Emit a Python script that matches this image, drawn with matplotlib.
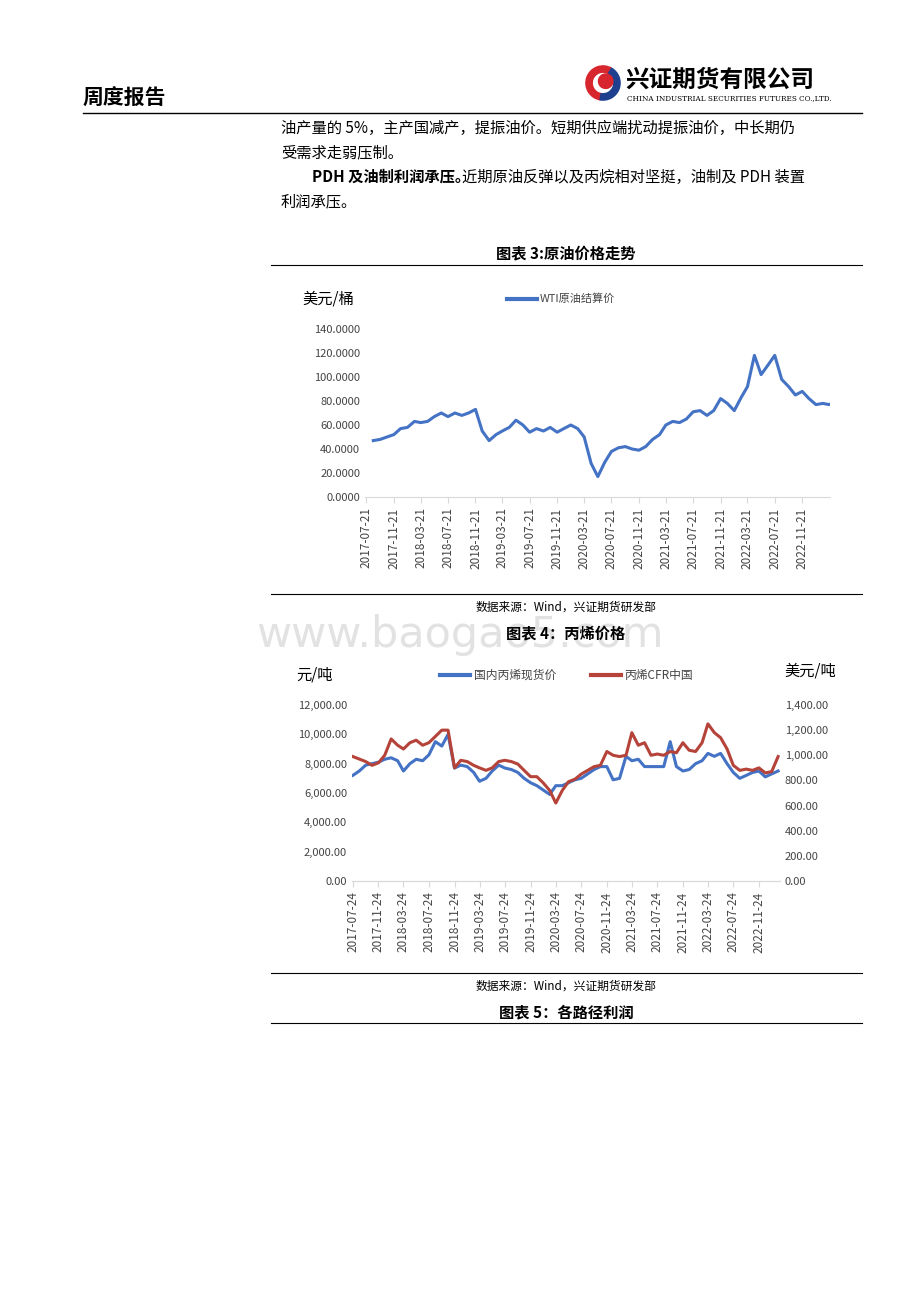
import matplotlib
matplotlib.use("Agg")
import matplotlib.pyplot as plt
import matplotlib.dates as mdates
import pandas as pd
from matplotlib.patches import Wedge

plt.rcParams['font.family'] = ['Noto Sans CJK SC', 'DejaVu Sans']

wti_dates = pd.date_range("2017-07-21", periods=69, freq="MS") + pd.Timedelta(days=20)
wti = [47, 48, 50, 52, 57, 58,
       63, 62, 63, 67, 70, 67, 70, 68, 70, 73, 55, 47,
       52, 55, 58, 64, 60, 54, 57, 55, 58, 54, 57, 60,
       57, 50, 28, 17, 29, 38, 41, 42, 40, 39, 42, 48,
       52, 60, 63, 62, 65, 71, 72, 68, 72, 82, 78, 72,
       83, 92, 118, 102, 110, 118, 98, 92, 85, 88, 82, 77,
       78, 77, 80]
wti_ticks = ["2017-07-21", "2017-11-21", "2018-03-21", "2018-07-21", "2018-11-21", "2019-03-21",
             "2019-07-21", "2019-11-21", "2020-03-21", "2020-07-21", "2020-11-21", "2021-03-21",
             "2021-07-21", "2021-11-21", "2022-03-21", "2022-07-21", "2022-11-21"]

pp_dates = pd.date_range("2017-07-01", periods=68, freq="MS") + pd.Timedelta(days=23)
dom = [7200, 7500, 7900, 8000, 8100, 8300,
       8400, 8200, 7500, 8000, 8300, 8200, 8600, 9500, 9200, 10000, 7700, 7900,
       7800, 7400, 6800, 7000, 7500, 7900, 7700, 7600, 7400, 7000, 6700, 6500,
       6200, 5900, 6500, 6500, 6700, 6900, 7000, 7300, 7600, 7800, 7800, 6900,
       7000, 8500, 8200, 8300, 7800, 7800, 7800, 7800, 9500, 7800, 7500, 7600,
       8000, 8200, 8700, 8500, 8700, 8000, 7400, 7000, 7200, 7400, 7500, 7100,
       7300, 7500]
cfr = [990, 970, 950, 920, 940, 1000,
       1130, 1080, 1050, 1100, 1120, 1080, 1100, 1150, 1200, 1200, 900, 960,
       950, 920, 900, 880, 900, 950, 960, 950, 930, 880, 830, 830,
       780, 720, 620, 720, 790, 810, 850, 880, 910, 920, 1030, 1000,
       990, 1000, 1180, 1080, 1100, 1000, 1010, 1000, 1030, 1020, 1100, 1040,
       1030, 1100, 1250, 1180, 1140, 1050, 920, 880, 890, 880, 900, 860,
       870, 990]
pp_ticks = ["2017-07-24", "2017-11-24", "2018-03-24", "2018-07-24", "2018-11-24", "2019-03-24",
            "2019-07-24", "2019-11-24", "2020-03-24", "2020-07-24", "2020-11-24", "2021-03-24",
            "2021-07-24", "2021-11-24", "2022-03-24", "2022-07-24", "2022-11-24"]

W, H = 920, 1302
fig = plt.figure(figsize=(9.2, 13.02), dpi=100)

def fx(x): return x / W
def fy(y): return 1 - y / H

def hline(y, x0, x1, lw=0.8):
    fig.add_artist(plt.Line2D([fx(x0), fx(x1)], [fy(y), fy(y)], color='black', lw=lw))

# header
fig.text(fx(83), fy(98), "周度报告", fontsize=15, fontweight='bold', va='center')
hline(113, 83, 862, 1.0)
lax = fig.add_axes([fx(585), fy(102), fx(36), fy(64) - fy(102)])
lax.set_xlim(-1, 1); lax.set_ylim(-1, 1); lax.axis('off'); lax.set_aspect('equal')
lax.add_patch(Wedge((0, 0), 0.95, 60, 260, width=0.35, color='#d7262d'))
lax.add_patch(Wedge((0, 0), 0.95, 260, 420, width=0.35, color='#1f3f8f'))
lax.add_patch(Wedge((0.15, 0.1), 0.4, 0, 360, color='#d7262d'))
fig.text(fx(625), fy(80), "兴证期货有限公司", fontsize=17, fontweight='bold', va='center')
fig.text(fx(627), fy(98), "CHINA INDUSTRIAL SECURITIES FUTURES CO.,LTD.", fontsize=5.2, va='center',
         family='DejaVu Serif')

# body
fs = 11
fig.text(fx(281), fy(128), "油产量的 5%，主产国减产，提振油价。短期供应端扰动提振油价，中长期仍", fontsize=fs, va='center')
fig.text(fx(281), fy(153), "受需求走弱压制。", fontsize=fs, va='center')
fig.text(fx(312), fy(177), "PDH 及油制利润承压。", fontsize=fs, va='center', fontweight='bold')
fig.text(fx(462), fy(177), "近期原油反弹以及丙烷相对坚挺，油制及 PDH 装置", fontsize=fs, va='center')
fig.text(fx(281), fy(202), "利润承压。", fontsize=fs, va='center')

fig.text(fx(566), fy(253), "图表 3:原油价格走势", fontsize=11, fontweight='bold', ha='center', va='center')
hline(265, 271, 862)
hline(594, 271, 862)
fig.text(fx(566), fy(607), "数据来源：Wind，兴证期货研发部", fontsize=8.5, ha='center', va='center')
fig.text(fx(460), fy(635), "www.baogao5.com", fontsize=31, color='#e2e2e2', ha='center', va='center',
         family='DejaVu Sans', zorder=0)
fig.text(fx(566), fy(633), "图表 4：丙烯价格", fontsize=11, fontweight='bold', ha='center', va='center')
hline(973, 271, 862)
fig.text(fx(566), fy(986), "数据来源：Wind，兴证期货研发部", fontsize=8.5, ha='center', va='center')
fig.text(fx(566), fy(1012), "图表 5：各路径利润", fontsize=11, fontweight='bold', ha='center', va='center')
hline(1023, 271, 862)

blue = '#4472c4'
red = '#b5433a'
gray = '#444444'

# chart 1
ax1 = fig.add_axes([fx(365), fy(497), fx(830) - fx(365), fy(329) - fy(497)])
ax1.plot(wti_dates, wti, color=blue, lw=2.2)
ax1.set_ylim(0, 140)
ax1.set_yticks(range(0, 141, 20))
ax1.set_yticklabels([f"{v:.4f}" for v in range(0, 141, 20)], fontsize=8, color=gray)
tk = pd.to_datetime(wti_ticks)
ax1.set_xticks(tk)
ax1.set_xticklabels(wti_ticks, rotation=90, fontsize=8.5, color=gray)
ax1.set_xlim(pd.Timestamp("2017-07-15"), pd.Timestamp("2023-03-25"))
for s in ['top', 'right', 'left']:
    ax1.spines[s].set_visible(False)
ax1.spines['bottom'].set_color('#d9d9d9')
ax1.tick_params(axis='y', length=0)
ax1.tick_params(axis='x', color='#d9d9d9', length=4)
fig.text(fx(302), fy(299), "美元/桶", fontsize=11, va='center')
fig.add_artist(plt.Line2D([fx(507), fx(537)], [fy(299)] * 2, color=blue, lw=3))
fig.text(fx(540), fy(299), "WTI原油结算价", fontsize=8, va='center', color=gray)

# chart 2
ax2 = fig.add_axes([fx(352), fy(881), fx(780) - fx(352), fy(705) - fy(881)])
ax2.plot(pp_dates, dom, color=blue, lw=2.2)
ax2.set_ylim(0, 12000)
ax2.set_yticks(range(0, 12001, 2000))
ax2.set_yticklabels([f"{v:,.2f}" for v in range(0, 12001, 2000)], fontsize=8, color=gray)
ax3 = ax2.twinx()
ax3.plot(pp_dates, cfr, color=red, lw=2.2)
ax3.set_ylim(0, 1400)
ax3.set_yticks(range(0, 1401, 200))
ax3.set_yticklabels([f"{v:,.2f}" for v in range(0, 1401, 200)], fontsize=8, color=gray)
tk2 = pd.to_datetime(pp_ticks)
ax2.set_xticks(tk2)
ax2.set_xticklabels(pp_ticks, rotation=90, fontsize=8.5, color=gray)
ax2.set_xlim(pd.Timestamp("2017-07-20"), pd.Timestamp("2023-03-05"))
for a in (ax2, ax3):
    for s in ['top', 'right', 'left']:
        a.spines[s].set_visible(False)
    a.spines['bottom'].set_color('#d9d9d9')
    a.tick_params(axis='y', length=0)
ax2.tick_params(axis='x', color='#d9d9d9', length=4)
fig.text(fx(296), fy(675), "元/吨", fontsize=11, va='center')
fig.text(fx(784), fy(671), "美元/吨", fontsize=11, va='center')
fig.add_artist(plt.Line2D([fx(440), fx(470)], [fy(675)] * 2, color=blue, lw=3))
fig.text(fx(474), fy(675), "国内丙烯现货价", fontsize=8.5, va='center', color=gray)
fig.add_artist(plt.Line2D([fx(591), fx(621)], [fy(675)] * 2, color=red, lw=3))
fig.text(fx(624), fy(675), "丙烯CFR中国", fontsize=8.5, va='center', color=gray)

fig.savefig("out.png", dpi=100)
